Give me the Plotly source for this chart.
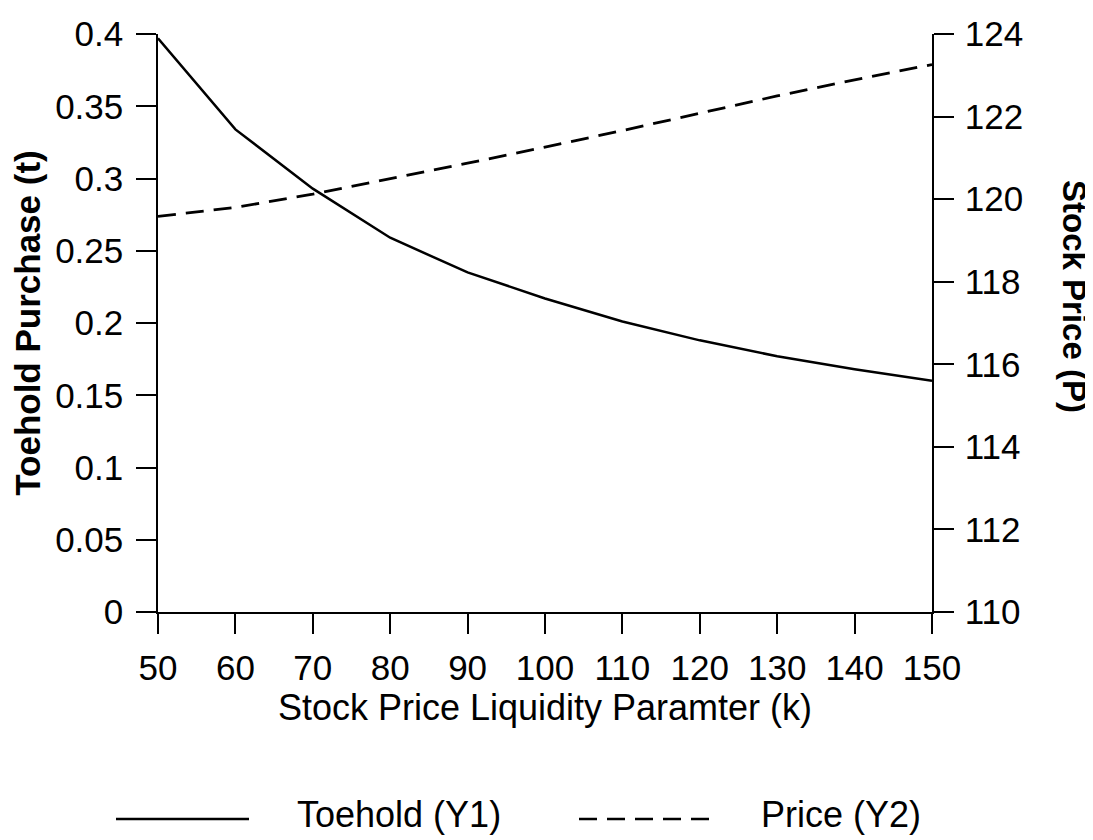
import plotly.graph_objects as go

k_values = [50, 60, 70, 80, 90, 100, 110, 120, 130, 140, 150]
toehold = [0.397, 0.334, 0.293, 0.259, 0.235, 0.217, 0.201, 0.188, 0.177, 0.168, 0.160]
price = [119.58, 119.80, 120.12, 120.49, 120.87, 121.26, 121.66, 122.08, 122.50, 122.89, 123.26]

x_ticks = list(range(50, 151, 10))
y1_ticks = [0, 0.05, 0.1, 0.15, 0.2, 0.25, 0.3, 0.35, 0.4]
y1_labels = ["0", "0.05", "0.1", "0.15", "0.2", "0.25", "0.3", "0.35", "0.4"]
y2_ticks = [110, 112, 114, 116, 118, 120, 122, 124]

FONT = "Liberation Sans, Arial, sans-serif"
DASH = "18px,10px"

# the page body adds an 8px offset, so the figure is 8px smaller than the window
fig = go.Figure()
fig.add_trace(go.Scatter(x=k_values, y=toehold, mode="lines", name="Toehold (Y1)",
                         line=dict(color="black", width=2.5), yaxis="y"))
fig.add_trace(go.Scatter(x=k_values, y=price, mode="lines", name="Price (Y2)",
                         line=dict(color="black", width=2.8, dash=DASH), yaxis="y2"))

axis_common = dict(showgrid=False, zeroline=False, showline=True, linecolor="black", linewidth=1.5,
                   ticks="outside", ticklen=20, tickwidth=1.5, tickcolor="black", automargin=False,
                   tickfont=dict(family=FONT, size=35, color="black"))

fig.update_layout(
    width=1085, height=832,
    paper_bgcolor="white", plot_bgcolor="white",
    margin=dict(l=150, r=161, t=26, b=228),
    showlegend=False,
    xaxis=dict(range=[50, 150], tickvals=x_ticks, ticklabelstandoff=4,
               title=dict(text="Stock Price Liquidity Paramter (k)", standoff=6,
                          font=dict(family=FONT, size=36, color="black")),
               **axis_common),
    yaxis=dict(range=[0, 0.4], tickvals=y1_ticks, ticktext=y1_labels, ticklabelstandoff=6,
               title=dict(text="<b>Toehold Purchase (t)</b>", standoff=6,
                          font=dict(family=FONT, size=35, color="black")),
               **axis_common),
    yaxis2=dict(range=[110, 124], tickvals=y2_ticks, overlaying="y", side="right",
                ticklabelstandoff=4, **axis_common),
)

# helpers mapping page pixels to paper coordinates (plot area 158..932 x 34..612 on the page)
def px_x(px):
    return (px - 158) / 774

def px_y(py):
    return (612 - py) / 578

# right axis title (reads top-to-bottom as in the reference)
fig.add_annotation(text="<b>Stock Price (P)</b>", xref="paper", yref="paper",
                   x=px_x(1074), y=px_y(296), textangle=90,
                   showarrow=False, xanchor="center", yanchor="middle",
                   font=dict(family=FONT, size=33, color="black"))

# legend drawn below the chart
leg_y = px_y(819)
fig.add_shape(type="line", xref="paper", yref="paper", x0=px_x(116), x1=px_x(249), y0=leg_y, y1=leg_y,
              line=dict(color="black", width=2.5))
fig.add_annotation(text="Toehold (Y1)", xref="paper", yref="paper", x=px_x(295), y=px_y(814),
                   showarrow=False, xanchor="left", yanchor="middle",
                   font=dict(family=FONT, size=36, color="black"))
fig.add_shape(type="line", xref="paper", yref="paper", x0=px_x(579), x1=px_x(711), y0=leg_y, y1=leg_y,
              line=dict(color="black", width=2.5, dash=DASH))
fig.add_annotation(text="Price (Y2)", xref="paper", yref="paper", x=px_x(759), y=px_y(814),
                   showarrow=False, xanchor="left", yanchor="middle",
                   font=dict(family=FONT, size=36, color="black"))

fig.write_html("out.html")
